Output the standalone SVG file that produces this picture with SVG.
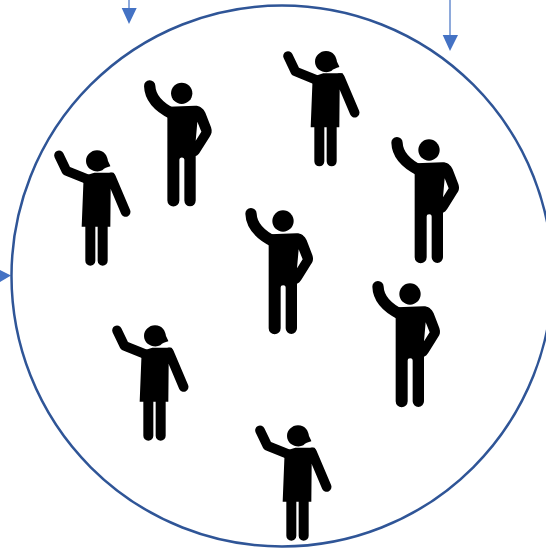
<svg xmlns="http://www.w3.org/2000/svg" width="546" height="548" viewBox="0 0 546 548">
<style>
.ring{fill:#fff;stroke:#2f5597;stroke-width:2.500}
.line{stroke:#4472c4;stroke-width:1.200;fill:none}
.head{fill:#4472c4}
.arm{fill:none;stroke:#000;stroke-linecap:round;stroke-linejoin:round}
</style>
<defs>
<g id="man" transform="scale(.3333) translate(-155,-70)">
<circle cx="155" cy="70" r="32"/>
<path class="arm" stroke-width="34" d="M59,48C60,78 76,106 128,132"/>
<path fill-rule="evenodd" d="M112,125L116,110L195,107C210,107 220,115 226,128L243,172C247,184 245,192 239,200L210,246C206,252 203,256 197,258L197,392A17,17 0 0 1 163,392L163,270A7.500,7.500 0 0 0 148,270L148,392A18,18 0 0 1 112,392ZM202,155L197,212L214,185Z"/>
</g>
<g id="woman" transform="scale(.3333) translate(-168,-65)">
<path d="M168,33C190,33 199,50 201,65C204,72 207,76 208,81C198,85 190,86 184,93C165,103 135,90 135,65C135,48 150,33 168,33Z"/>
<path class="arm" stroke-width="29" d="M54,48L76,94L145,122"/>
<path class="arm" stroke-width="29" d="M210,114L254,218"/>
<path d="M128,110L160,100L218,100L225,125L209,150L208,262L200,262L200,364A15,15 0 0 1 170,364L170,262L163,262L163,364A15,15 0 0 1 133,364L133,262L122,262Z"/>
</g>
</defs>
<g id="connectors">
<path class="line" d="M129,0V9M450,0V36"/>
<path class="head" d="M121.700,8H136.700L129,24ZM442.700,35H458L450,51ZM0,270L11,275.500L0,282Z"/>
</g>
<g id="circle"><circle class="ring" cx="282" cy="276" r="270.500"/></g>
<g id="person-1"><use href="#man" x="181.700" y="93.300"/></g>
<g id="person-2"><use href="#woman" x="326" y="61.700"/></g>
<g id="person-3"><use href="#man" x="429" y="150"/></g>
<g id="person-4"><use href="#woman" x="97" y="161"/></g>
<g id="person-5"><use href="#man" x="283" y="221"/></g>
<g id="person-6"><use href="#man" x="410" y="294"/></g>
<g id="person-7"><use href="#woman" x="155" y="336"/></g>
<g id="person-8"><use href="#woman" x="298" y="436"/></g>
</svg>
